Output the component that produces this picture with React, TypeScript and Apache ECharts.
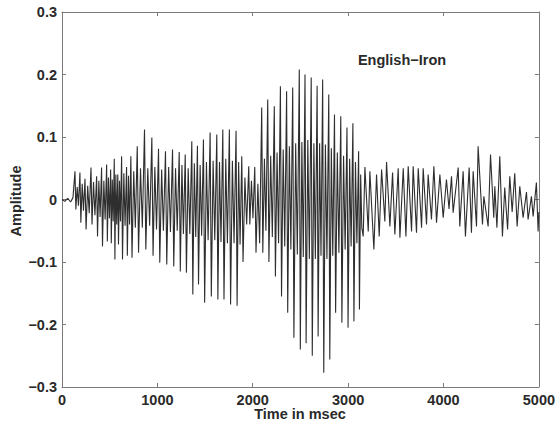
import React, { useEffect, useRef } from "react";
import * as echarts from "echarts";

// Onset (near-silent lead-in), msec / amplitude
const onsetTime = [0, 30, 60, 90, 115];
const onsetAmp = [0.0, -0.003, 0.002, -0.004, 0.003];

// Voiced pitch periods: start time (msec), positive spike, negative spike, ripple high, ripple low
const periodStart = [
  136, 188, 241, 304, 363, 415, 468, 510, 548, 585,
  625, 677, 722, 789, 865, 942, 1012, 1085, 1159, 1229,
  1292, 1361, 1420, 1483, 1553, 1623, 1686, 1755, 1825, 1885,
  1958, 2021, 2094, 2157, 2226, 2290, 2355, 2419, 2488, 2548,
  2613, 2675, 2733, 2797, 2857, 2923, 2988, 3050, 3110,
];
const peakAmp = [
  0.045, 0.043, 0.033, 0.051, 0.037, 0.051, 0.056, 0.048, 0.065, 0.04,
  0.069, 0.052, 0.069, 0.085, 0.112, 0.099, 0.081, 0.077, 0.08, 0.076,
  0.072, 0.093, 0.086, 0.096, 0.107, 0.104, 0.112, 0.112, 0.11, 0.069,
  0.053, 0.052, 0.147, 0.16, 0.149, 0.181, 0.173, 0.179, 0.208, 0.2,
  0.195, 0.182, 0.192, 0.168, 0.136, 0.133, 0.115, 0.122, 0.077,
];
const troughAmp = [
  -0.016, -0.037, -0.048, -0.04, -0.059, -0.075, -0.067, -0.07, -0.096, -0.072,
  -0.096, -0.09, -0.093, -0.085, -0.08, -0.09, -0.101, -0.104, -0.107, -0.115,
  -0.117, -0.152, -0.136, -0.165, -0.155, -0.16, -0.16, -0.168, -0.17, -0.1,
  -0.04, -0.085, -0.085, -0.1, -0.123, -0.155, -0.181, -0.221, -0.24, -0.23,
  -0.25, -0.219, -0.277, -0.256, -0.181, -0.197, -0.205, -0.195, -0.176,
];
const rippleHigh = [
  0.02, 0.025, 0.022, 0.028, 0.03, 0.03, 0.035, 0.032, 0.04, 0.03,
  0.042, 0.038, 0.045, 0.05, 0.05, 0.052, 0.048, 0.052, 0.05, 0.055,
  0.05, 0.058, 0.055, 0.06, 0.062, 0.06, 0.065, 0.062, 0.06, 0.035,
  0.03, 0.025, 0.065, 0.07, 0.075, 0.08, 0.085, 0.09, 0.092, 0.095,
  0.09, 0.09, 0.088, 0.082, 0.075, 0.07, 0.065, 0.06, 0.04,
];
const rippleLow = [
  -0.01, -0.018, -0.022, -0.025, -0.028, -0.032, -0.03, -0.035, -0.04, -0.035,
  -0.042, -0.04, -0.045, -0.045, -0.042, -0.048, -0.05, -0.052, -0.05, -0.055,
  -0.055, -0.06, -0.058, -0.065, -0.065, -0.068, -0.07, -0.07, -0.072, -0.04,
  -0.03, -0.07, -0.05, -0.06, -0.07, -0.075, -0.08, -0.088, -0.092, -0.095,
  -0.095, -0.09, -0.095, -0.09, -0.085, -0.08, -0.075, -0.07, -0.045,
];

// Tail (smoother oscillation) extremes, msec / amplitude
const tailTime = [
  3158, 3176, 3211, 3228, 3270, 3298, 3326, 3351, 3385, 3403,
  3438, 3466, 3490, 3525, 3543, 3578, 3606, 3630, 3665, 3682,
  3717, 3735, 3770, 3787, 3822, 3839, 3874, 3899, 3927, 3962,
  3997, 4031, 4058, 4084, 4101, 4154, 4171, 4206, 4230, 4269,
  4293, 4311, 4346, 4363, 4409, 4423, 4468, 4493, 4527, 4538,
  4560, 4590, 4618, 4642, 4672, 4695, 4720, 4747, 4772, 4800,
  4835, 4870, 4887, 4922, 4940, 4974, 4992, 5000,
];
const tailAmp = [
  -0.059, 0.052, -0.051, 0.045, -0.08, 0.04, -0.059, 0.048, -0.035, 0.06,
  -0.043, 0.043, -0.056, 0.05, -0.061, 0.05, -0.059, 0.053, -0.051, 0.053,
  -0.053, 0.05, -0.045, 0.05, -0.04, 0.04, -0.032, 0.053, -0.037, 0.04,
  -0.029, 0.032, -0.015, 0.037, -0.021, 0.051, -0.043, 0.045, -0.059, 0.051,
  -0.053, 0.045, -0.043, 0.085, -0.04, 0.005, -0.043, 0.072, -0.029, 0.021,
  -0.045, 0.069, -0.059, 0.019, -0.048, 0.037, -0.02, 0.042, -0.043, 0.021,
  -0.029, 0.012, -0.032, 0.005, -0.027, 0.027, -0.051, -0.02,
];

const xTicks = { min: 0, max: 5000, interval: 1000 };
const yTicks = { min: -0.3, max: 0.3, interval: 0.1 };

const FONT = "'Liberation Sans', Arial, Helvetica, sans-serif";
const TEXT = "#2a2a2a";
const AXIS = "#7a7a7a";

function buildData(): [number, number][] {
  const d: [number, number][] = [];
  onsetTime.forEach((t, i) => d.push([t, onsetAmp[i]]));
  periodStart.forEach((t, i) => {
    const next = i + 1 < periodStart.length ? periodStart[i + 1] : tailTime[0];
    const dt = next - t;
    d.push([t, peakAmp[i]]);
    d.push([t + dt * 0.18, troughAmp[i]]);
    d.push([t + dt * 0.45, rippleHigh[i]]);
    d.push([t + dt * 0.7, rippleLow[i]]);
  });
  tailTime.forEach((t, i) => d.push([t, tailAmp[i]]));
  return d;
}

export default function App() {
  const ref = useRef<HTMLDivElement>(null);
  useEffect(() => {
    document.body.style.margin = "0";
    const chart = echarts.init(ref.current!, null, { renderer: "svg" });
    const fmtY = (v: number) => {
      if (Math.abs(v) < 1e-9) return "0";
      return (v < 0 ? "\u2212" : "") + Math.abs(v).toFixed(1);
    };
    const fmtX = (v: number) => String(Math.round(v));
    const labelStyle = { fontFamily: FONT, fontWeight: "bold" as const, fontSize: 14.5, color: TEXT };
    const axisLine = { show: true, onZero: false, lineStyle: { color: AXIS, width: 1 } };
    const axisTick = { show: true, inside: true, length: 4, lineStyle: { color: AXIS } };
    chart.setOption({
      animation: false,
      grid: { left: 62, right: 19, top: 12, bottom: 38, containLabel: false },
      xAxis: [
        {
          type: "value", ...xTicks, position: "bottom",
          axisLine, axisTick, splitLine: { show: false },
          axisLabel: { ...labelStyle, margin: 5, formatter: fmtX },
        },
        {
          type: "value", ...xTicks, position: "top",
          axisLine, axisTick, splitLine: { show: false }, axisLabel: { show: false },
        },
      ],
      yAxis: [
        {
          type: "value", ...yTicks, position: "left",
          axisLine, axisTick, splitLine: { show: false },
          axisLabel: { ...labelStyle, margin: 5, formatter: fmtY },
        },
        {
          type: "value", ...yTicks, position: "right",
          axisLine, axisTick, splitLine: { show: false }, axisLabel: { show: false },
        },
      ],
      series: [
        {
          type: "line",
          xAxisIndex: 0,
          yAxisIndex: 0,
          data: buildData(),
          showSymbol: false,
          symbol: "none",
          lineStyle: { color: "#2e2e2e", width: 1.1 },
        },
      ],
      graphic: [
        {
          type: "text", x: 16, y: 201, rotation: Math.PI / 2,
          style: { text: "Amplitude", font: `bold 14.5px ${FONT}`, fill: TEXT, align: "center", verticalAlign: "middle" },
        },
        {
          type: "text", x: 300, y: 414,
          style: { text: "Time in msec", font: `bold 14.5px ${FONT}`, fill: TEXT, align: "center", verticalAlign: "middle" },
        },
        {
          type: "text", x: 402, y: 60,
          style: { text: "English\u2212Iron", font: `bold 14.5px ${FONT}`, fill: TEXT, align: "center", verticalAlign: "middle" },
        },
      ],
    });
    return () => chart.dispose();
  }, []);
  return <div ref={ref} style={{ width: 558, height: 425 }} />;
}
